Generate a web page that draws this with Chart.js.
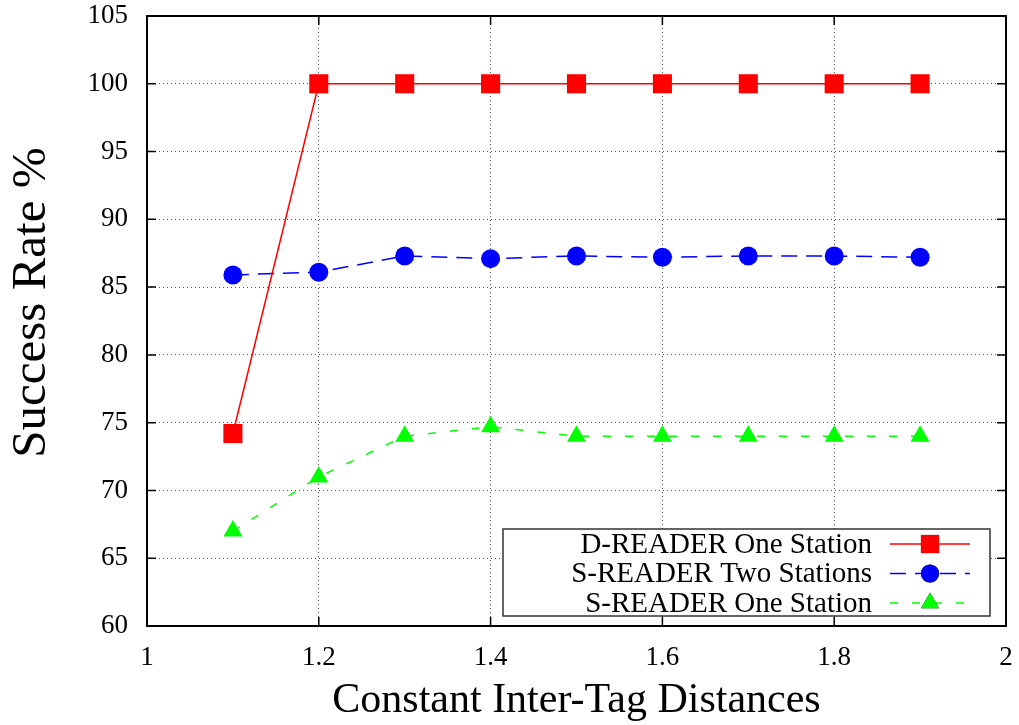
<!DOCTYPE html>
<html><head><meta charset="utf-8">
<script src="https://cdn.jsdelivr.net/npm/chart.js@4/dist/chart.umd.min.js"></script>
<style>html,body{margin:0;padding:0;background:#fff}#wrap{width:1019px;height:725px}</style>
</head><body><div id="wrap"><canvas id="c" width="1019" height="725"></canvas></div>
<script>
const xValues = [1.1, 1.2, 1.3, 1.4, 1.5, 1.6, 1.7, 1.8, 1.9];
const dReaderOne = [74.2, 100, 100, 100, 100, 100, 100, 100, 100];
const sReaderTwo = [85.9, 86.1, 87.3, 87.1, 87.3, 87.2, 87.3, 87.3, 87.2];
const sReaderOne = [67.0, 71.0, 74.0, 74.7, 74.0, 74.0, 74.0, 74.0, 74.0];
const seriesLabels = ['D-READER One Station', 'S-READER Two Stations', 'S-READER One Station'];
const xTickValues = [1, 1.2, 1.4, 1.6, 1.8, 2];
const xTickLabels = ['1', '1.2', '1.4', '1.6', '1.8', '2'];
const yTickValues = [60, 65, 70, 75, 80, 85, 90, 95, 100, 105];
const yTickLabels = ['60', '65', '70', '75', '80', '85', '90', '95', '100', '105'];
const xTitle = 'Constant Inter-Tag Distances';
const yTitle = '\u00a0\u00a0\u00a0Success Rate %';

const FONT = "'Liberation Serif', 'Times New Roman', serif";
const toPts = (ys) => ys.map((y, i) => ({x: xValues[i], y}));

const frameAndTicks = {
  id: 'frameAndTicks',
  beforeDatasetsDraw(chart) {
    const {ctx, chartArea: a, scales: {x, y}} = chart;
    ctx.save();
    ctx.strokeStyle = '#000';
    ctx.lineWidth = 1.5;
    const L = 9;
    ctx.beginPath();
    xTickValues.forEach(v => {
      const px = x.getPixelForValue(v);
      ctx.moveTo(px, a.bottom); ctx.lineTo(px, a.bottom - L);
      ctx.moveTo(px, a.top); ctx.lineTo(px, a.top + L);
    });
    yTickValues.forEach(v => {
      const py = y.getPixelForValue(v);
      ctx.moveTo(a.left, py); ctx.lineTo(a.left + L, py);
      ctx.moveTo(a.right, py); ctx.lineTo(a.right - L, py);
    });
    ctx.stroke();
    ctx.lineWidth = 2;
    ctx.strokeRect(a.left, a.top, a.right - a.left, a.bottom - a.top);
    ctx.restore();
  }
};

const boxLegend = {
  id: 'boxLegend',
  afterDraw(chart) {
    const {ctx, chartArea: a} = chart;
    const bx = a.left + 356, by = a.top + 513, bw = 487, bh = 87;
    ctx.save();
    ctx.fillStyle = '#fff';
    ctx.fillRect(bx, by, bw, bh);
    ctx.strokeStyle = '#333';
    ctx.lineWidth = 1.5;
    ctx.strokeRect(bx, by, bw, bh);
    ctx.font = '29px ' + FONT;
    ctx.textAlign = 'right';
    ctx.textBaseline = 'middle';
    chart.data.datasets.forEach((ds, i) => {
      const cy = by + 15 + i * 29.5;
      ctx.fillStyle = '#000';
      ctx.fillText(ds.label, bx + 369, cy + 1);
      ctx.strokeStyle = ds.borderColor;
      ctx.lineWidth = ds.borderWidth;
      ctx.setLineDash(ds.borderDash || []);
      ctx.beginPath();
      ctx.moveTo(bx + 387, cy); ctx.lineTo(bx + 467, cy);
      ctx.stroke();
      ctx.setLineDash([]);
      Chart.helpers.drawPoint(ctx, {pointStyle: ds.pointStyle, radius: ds.pointRadius * 0.95, rotation: 0, borderWidth: 0}, bx + 427, cy);
      ctx.fillStyle = ds.pointBackgroundColor;
      ctx.fill();
    });
    ctx.restore();
  }
};

new Chart(document.getElementById('c'), {
  type: 'line',
  data: {
    datasets: [
      {label: seriesLabels[0], data: toPts(dReaderOne), borderColor: '#ff0000', backgroundColor: '#ff0000',
       pointBackgroundColor: '#ff0000', pointBorderWidth: 0, borderWidth: 1.5, pointStyle: 'rect', pointRadius: 13.5, pointHoverRadius: 13.5},
      {label: seriesLabels[1], data: toPts(sReaderTwo), borderColor: '#0000ff', backgroundColor: '#0000ff',
       pointBackgroundColor: '#0000ff', pointBorderWidth: 0, borderWidth: 1.5, borderDash: [16, 9], pointStyle: 'circle', pointRadius: 9.5, pointHoverRadius: 9.5},
      {label: seriesLabels[2], data: toPts(sReaderOne), borderColor: '#00ff00', backgroundColor: '#00ff00',
       pointBackgroundColor: '#00ff00', pointBorderWidth: 0, borderWidth: 1.5, borderDash: [8, 14], pointStyle: 'triangle', pointRadius: 11, pointHoverRadius: 11}
    ]
  },
  options: {
    responsive: false,
    animation: false,
    devicePixelRatio: 1,
    layout: {autoPadding: false, padding: {left: 0, top: 16, right: 13, bottom: 0}},
    plugins: {legend: {display: false}, tooltip: {enabled: false}},
    scales: {
      x: {
        type: 'linear', min: 1, max: 2,
        afterBuildTicks: (s) => { s.ticks = xTickValues.map(v => ({value: v})); },
        afterFit: (s) => { s.height = 99; s.paddingLeft = 0; s.paddingRight = 0; s.paddingTop = 0; s.paddingBottom = 0; },
        ticks: {callback: (v) => xTickLabels[xTickValues.indexOf(v)] ?? '', font: {family: FONT, size: 27}, color: '#000', padding: 16, maxRotation: 0},
        grid: {color: '#555', lineWidth: 1, drawTicks: false},
        border: {display: false, dash: [1, 3]},
        title: {display: true, text: xTitle, font: {family: FONT, size: 42, lineHeight: 1}, color: '#000', padding: {top: 0, bottom: 3}}
      },
      y: {
        type: 'linear', min: 60, max: 105,
        afterBuildTicks: (s) => { s.ticks = yTickValues.map(v => ({value: v})); },
        afterFit: (s) => { s.width = 147; s.paddingLeft = 0; s.paddingRight = 0; s.paddingTop = 0; s.paddingBottom = 0; },
        ticks: {callback: (v) => yTickLabels[yTickValues.indexOf(v)] ?? '', font: {family: FONT, size: 27}, color: '#000', padding: 19},
        grid: {color: '#555', lineWidth: 1, drawTicks: false},
        border: {display: false, dash: [1, 3]},
        title: {display: true, text: yTitle, font: {family: FONT, size: 49, lineHeight: 1}, color: '#000', padding: {top: 8, bottom: 0}}
      }
    }
  },
  plugins: [frameAndTicks, boxLegend]
});
</script>
</body></html>
